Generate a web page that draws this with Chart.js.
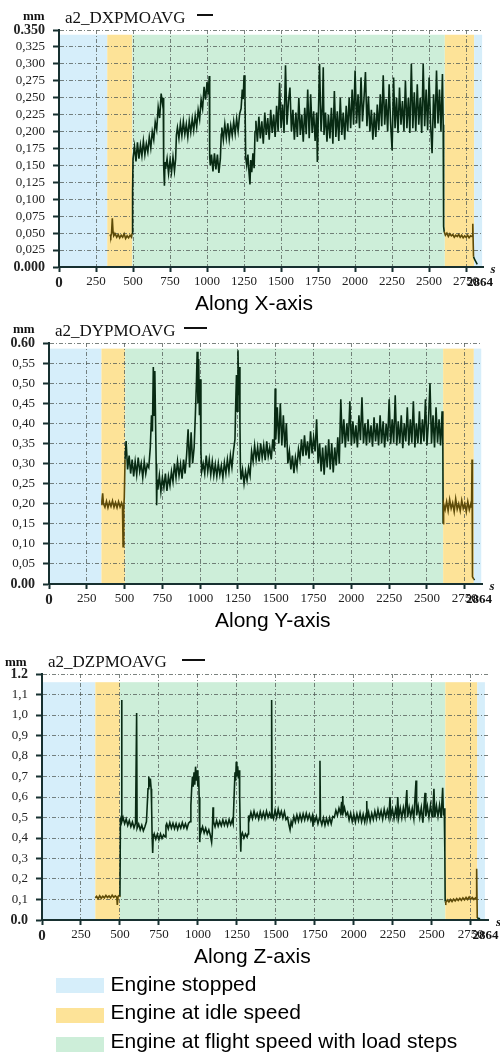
<!DOCTYPE html>
<html>
<head>
<meta charset="utf-8">
<script src="https://cdn.jsdelivr.net/npm/chart.js@4.4.1/dist/chart.umd.min.js"></script>
<style>
  body { margin: 0; width: 500px; height: 1053px; position: relative; background: #fff; overflow: hidden; }
  canvas { position: absolute; left: 0; }
  .t { position: absolute; white-space: nowrap; line-height: 1; }
  .serif { font-family: 'Liberation Serif', serif; color: #111; }
  .sans { font-family: 'Liberation Sans', Arial, sans-serif; font-size: 21px; color: #000; }
  .raya { position: absolute; height: 0; border-top: 2px solid #111; }
  .caja { position: absolute; left: 56px; width: 48px; height: 15px; }
</style>
</head>
<body>
<canvas id="gX" width="500" height="292" style="top:0px"></canvas>
<canvas id="gY" width="500" height="300" style="top:310px"></canvas>
<canvas id="gZ" width="500" height="306" style="top:640px"></canvas>

<div class="t serif" style="left:23px;top:9px;font-size:13px;font-weight:bold">mm</div>
<div class="t serif" style="left:65px;top:8.5px;font-size:17px">a2_DXPMOAVG</div>
<div class="raya" style="left:197px;top:14px;width:16px"></div>
<div class="t sans" style="left:195px;top:292px">Along X-axis</div>

<div class="t serif" style="left:13px;top:322px;font-size:13px;font-weight:bold">mm</div>
<div class="t serif" style="left:55px;top:321.8px;font-size:17px">a2_DYPMOAVG</div>
<div class="raya" style="left:184px;top:327px;width:23px"></div>
<div class="t sans" style="left:215px;top:609px">Along Y-axis</div>

<div class="t serif" style="left:5px;top:655px;font-size:13px;font-weight:bold">mm</div>
<div class="t serif" style="left:48px;top:652.8px;font-size:17px">a2_DZPMOAVG</div>
<div class="raya" style="left:182px;top:659px;width:23px"></div>
<div class="t sans" style="left:194px;top:945px">Along Z-axis</div>

<div id="leyenda"></div>

<script>
// fases del ensayo y sus colores
const fases = ['Engine stopped', 'Engine at idle speed', 'Engine at flight speed with load steps'];
const coloresFase = ['#d6eefa', '#fde398', '#cdeed9'];

// tramos [desde s, hasta s, fase] de cada grafico
const tramosX = [[0, 326, 0], [326, 495, 1], [495, 2606, 2], [2606, 2804, 1], [2804, 2858, 0]];
const tramosY = [[0, 347, 0], [347, 504, 1], [504, 2607, 2], [2607, 2810, 1], [2810, 2859, 0]];
const tramosZ = [[0, 342, 0], [342, 500, 1], [500, 2587, 2], [2587, 2792, 1], [2792, 2841, 0]];
const techoX = 0.343, techoY = 0.586, techoZ = 1.16;

const tiempoFin = 2864;
const tiempoTicks = [0, 250, 500, 750, 1000, 1250, 1500, 1750, 2000, 2250, 2500, 2750];
const etiquetasX = ['0.000', '0,025', '0,050', '0,075', '0,100', '0,125', '0,150', '0,175', '0,200', '0,225', '0,250', '0,275', '0,300', '0,325', '0.350'];
const etiquetasY = ['0.00', '0,05', '0,10', '0,15', '0,20', '0,25', '0,30', '0,35', '0,40', '0,45', '0,50', '0,55', '0.60'];
const etiquetasZ = ['0.0', '0,1', '0,2', '0,3', '0,4', '0,5', '0,6', '0,7', '0,8', '0,9', '1,0', '1,1', '1.2'];

// [tiempo s, mm]
const dxpmoavg = [
  [345,.048],[350,.045],[355,.050],[360,.072],[365,.052],[370,.046],[380,.049],[390,.044],[400,.048],[410,.043],[420,.047],[430,.044],[440,.049],[450,.042],[460,.046],[470,.043],[480,.047],[490,.044],[494,.050],[497,.110],
  [500,.160],[510,.178],[520,.156],[530,.184],[540,.160],[550,.180],[560,.164],[570,.186],[580,.166],[590,.182],[600,.170],[610,.192],[620,.176],[630,.200],[640,.188],[650,.214],[660,.203],[670,.236],[680,.220],[690,.256],[700,.240],[704,.250],[707,.150],[712,.120],[716,.155],[720,.145],[730,.160],[740,.138],[750,.158],[760,.140],[770,.162],[780,.142],[788,.160],[793,.195],
  [800,.206],[810,.190],[820,.212],[830,.194],[840,.215],[850,.196],[860,.211],[870,.192],[880,.216],[890,.199],[900,.219],[910,.202],[920,.223],[930,.207],[940,.232],[950,.218],[960,.247],[970,.234],[980,.266],[990,.247],[1000,.273],[1008,.255],[1015,.282],[1018,.162],[1022,.150],[1030,.166],[1040,.141],[1050,.168],[1060,.144],[1070,.166],[1080,.139],[1090,.160],[1096,.196],
  [1100,.206],[1110,.188],[1120,.211],[1130,.191],[1140,.212],[1150,.189],[1160,.209],[1170,.194],[1180,.215],[1190,.197],[1200,.219],[1210,.201],[1220,.226],[1230,.234],[1238,.262],[1244,.248],[1250,.283],[1256,.254],[1261,.162],[1268,.150],[1276,.166],[1284,.138],[1290,.122],[1295,.158],[1302,.140],[1310,.168],[1318,.146],[1324,.200],[1330,.216],
  [1340,.185],[1350,.222],[1360,.190],[1370,.215],[1380,.182],[1390,.228],[1400,.195],[1410,.220],[1420,.188],[1430,.232],[1440,.198],[1450,.225],[1460,.192],[1470,.238],[1480,.200],[1490,.272],[1500,.205],[1510,.240],[1520,.198],[1530,.298],[1540,.210],[1550,.245],[1560,.265],[1570,.200],[1580,.232],
  [1590,.188],[1600,.228],[1610,.192],[1620,.250],[1630,.195],[1640,.225],[1650,.185],[1660,.235],[1670,.196],[1680,.262],[1690,.190],[1700,.255],[1710,.198],[1720,.230],[1730,.186],[1740,.228],[1745,.155],[1750,.205],[1760,.300],[1770,.200],[1780,.240],[1785,.295],[1790,.195],
  [1800,.228],[1810,.185],[1820,.225],[1830,.190],[1840,.235],[1850,.182],[1860,.260],[1870,.192],[1880,.230],[1890,.186],[1900,.250],[1910,.195],[1920,.228],[1930,.188],[1940,.238],[1950,.200],
  [1960,.250],[1970,.205],[1980,.262],[1990,.210],[2000,.290],[2010,.212],[2020,.255],[2030,.205],[2040,.280],[2050,.215],[2060,.248],[2070,.288],[2080,.208],[2090,.252],[2100,.200],[2110,.232],[2120,.188],[2130,.228],[2140,.192],[2150,.240],
  [2160,.202],[2170,.255],[2180,.208],[2190,.283],[2200,.210],[2210,.248],[2220,.200],[2230,.270],[2240,.212],[2250,.172],[2260,.280],[2270,.205],[2280,.250],[2290,.198],[2300,.265],[2310,.210],[2320,.245],[2330,.200],[2340,.275],[2350,.205],[2360,.250],[2370,.198],
  [2380,.300],[2390,.205],[2400,.258],[2410,.200],[2420,.270],[2430,.210],[2440,.250],[2450,.198],[2460,.300],[2470,.208],[2480,.262],[2490,.202],[2500,.280],[2510,.210],[2520,.168],[2530,.255],[2540,.205],[2550,.290],[2560,.212],[2570,.262],[2580,.200],[2590,.285],[2595,.210],
  [2598,.060],[2602,.052],[2610,.047],[2620,.050],[2630,.045],[2640,.049],[2650,.046],[2660,.048],[2670,.044],[2680,.047],[2690,.045],[2700,.048],[2710,.044],[2720,.047],[2730,.043],[2740,.046],[2750,.044],[2760,.047],[2770,.043],[2780,.046],[2790,.045],[2795,.064],[2800,.015],[2810,.010],[2820,.006],[2825,.004]
];

const dypmoavg = [
  [345,.198],[350,.206],[355,.226],[360,.200],[370,.191],[380,.206],[390,.190],[400,.204],[410,.193],[420,.207],[430,.191],[440,.203],[450,.190],[460,.205],[470,.192],[480,.202],[486,.194],[490,.093],[494,.190],[498,.215],[503,.310],
  [510,.356],[520,.285],[530,.320],[540,.275],[550,.310],[560,.268],[570,.305],[580,.272],[590,.315],[600,.280],[610,.300],[620,.265],[630,.305],[640,.275],[650,.298],[660,.290],[670,.340],[678,.420],[684,.380],[690,.540],[695,.420],[700,.530],[705,.400],[709,.300],[712,.196],[715,.260],
  [720,.235],[730,.270],[740,.230],[750,.265],[760,.240],[770,.275],[780,.232],[790,.268],[800,.245],[810,.280],[820,.255],[830,.300],[840,.265],[850,.305],[860,.270],[870,.298],[880,.262],[890,.310],[900,.275],[910,.320],[920,.385],[930,.290],[940,.378],[950,.300],[960,.340],[968,.420],[975,.500],[980,.578],[985,.450],[990,.560],[995,.420],[1000,.510],[1005,.330],[1010,.280],
  [1020,.300],[1030,.275],[1040,.320],[1050,.280],[1060,.310],[1070,.272],[1080,.305],[1090,.270],[1100,.298],[1110,.268],[1120,.300],[1130,.272],[1140,.295],[1150,.265],[1160,.302],[1170,.275],[1180,.310],[1190,.280],[1200,.320],[1210,.290],[1220,.330],[1230,.360],[1235,.450],[1240,.520],[1245,.430],[1250,.582],[1255,.470],[1260,.540],[1263,.400],[1266,.290],
  [1270,.260],[1280,.285],[1290,.250],[1300,.280],[1310,.258],[1320,.290],[1330,.270],[1340,.330],[1350,.305],[1360,.345],[1370,.310],[1380,.340],[1390,.305],[1400,.350],[1410,.315],[1420,.345],[1430,.308],[1440,.355],[1450,.318],[1460,.340],[1470,.310],[1480,.360],[1490,.330],[1496,.487],[1500,.360],
  [1510,.440],[1520,.350],[1530,.450],[1540,.345],[1550,.420],[1560,.340],[1570,.400],[1580,.300],[1590,.330],[1600,.285],[1610,.320],[1620,.276],[1630,.315],[1640,.290],[1650,.335],[1660,.310],[1670,.360],[1680,.318],[1690,.370],[1700,.320],[1710,.355],[1720,.312],[1730,.380],[1740,.325],[1750,.365],[1760,.330],[1770,.410],
  [1780,.300],[1790,.350],[1800,.280],[1810,.340],[1820,.272],[1830,.345],[1840,.290],[1850,.360],[1860,.285],[1870,.350],[1880,.278],[1890,.340],[1900,.295],[1910,.365],[1920,.300],
  [1930,.460],[1940,.350],[1950,.410],[1960,.340],[1970,.400],[1980,.355],[1990,.455],[2000,.345],[2010,.405],[2020,.350],[2030,.395],[2040,.340],[2050,.420],[2060,.358],[2070,.465],[2080,.350],[2090,.400],[2100,.345],[2110,.410],[2120,.352],[2130,.395],[2140,.342],[2150,.415],[2160,.355],[2170,.400],[2180,.345],[2190,.420],[2200,.350],
  [2210,.405],[2220,.340],[2230,.398],[2240,.355],[2250,.460],[2260,.348],[2270,.410],[2280,.352],[2290,.470],[2300,.345],[2310,.405],[2320,.350],[2330,.420],[2340,.338],[2350,.400],[2360,.355],[2370,.440],[2380,.345],[2390,.410],[2400,.352],[2410,.455],[2420,.340],[2430,.400],[2440,.350],[2450,.430],[2460,.348],[2470,.410],[2480,.355],[2490,.460],[2500,.345],
  [2510,.405],[2520,.500],[2530,.350],[2540,.420],[2550,.340],[2560,.440],[2570,.352],[2580,.410],[2590,.345],[2600,.430],[2605,.350],[2607,.150],[2610,.200],
  [2620,.185],[2630,.205],[2640,.182],[2650,.210],[2660,.188],[2670,.202],[2680,.180],[2690,.212],[2700,.186],[2710,.200],[2720,.182],[2730,.208],[2740,.188],[2750,.200],[2760,.180],[2770,.205],[2780,.185],[2790,.200],[2795,.190],[2798,.310],[2801,.018],[2810,.012],[2815,.010]
];

const dzpmoavg = [
  [342,.108],[350,.115],[360,.104],[370,.118],[380,.106],[390,.116],[400,.108],[410,.120],[420,.110],[430,.117],[440,.108],[450,.121],[460,.111],[470,.118],[480,.110],[483,.073],[488,.115],[495,.120],[500,.118],[503,.490],[507,.500],[511,1.073],[513,.480],
  [520,.500],[530,.470],[540,.492],[550,.462],[560,.485],[570,.455],[580,.478],[590,.450],[600,.472],[607,1.010],[610,.448],[620,.468],[630,.440],[640,.462],[650,.435],[660,.455],[670,.480],[675,.560],[680,.640],[685,.700],[690,.650],[695,.690],[700,.640],[703,.560],[706,.420],[710,.327],[713,.400],
  [720,.420],[730,.395],[740,.418],[750,.392],[760,.420],[770,.398],[780,.415],[790,.405],[795,.460],[800,.470],[810,.445],[820,.475],[830,.448],[840,.472],[850,.445],[860,.470],[870,.442],[880,.468],[890,.448],[900,.475],[910,.450],[920,.470],[930,.445],[940,.472],[950,.480],[955,.560],[960,.640],[965,.700],[970,.650],[975,.720],[980,.660],[985,.748],[990,.680],[995,.730],[1000,.650],[1005,.700],[1008,.600],[1011,.440],[1013,.380],[1016,.450],
  [1020,.430],[1030,.455],[1040,.425],[1050,.448],[1060,.420],[1070,.440],[1080,.412],[1088,.380],[1092,.420],[1097,.550],[1100,.480],[1110,.455],[1120,.485],[1130,.458],[1140,.482],[1150,.460],[1160,.488],[1170,.462],[1180,.485],[1190,.460],[1200,.490],[1210,.465],[1220,.488],[1226,.470],[1232,.600],[1238,.720],[1242,.680],[1246,.772],[1250,.700],[1255,.750],[1260,.690],[1265,.730],[1268,.600],[1272,.420],[1275,.333],[1278,.410],
  [1285,.425],[1295,.400],[1305,.420],[1315,.405],[1322,.420],[1325,.510],[1330,.490],[1340,.525],[1350,.495],[1360,.530],[1370,.500],[1380,.520],[1390,.492],[1400,.528],[1410,.498],[1420,.525],[1430,.495],[1440,.530],[1450,.500],[1460,.522],[1470,.498],[1473,1.073],[1476,.520],[1485,.495],[1495,.535],[1505,.500],[1515,.540],[1525,.505],[1535,.530],[1545,.498],[1555,.528],[1565,.490],
  [1575,.500],[1585,.460],[1591,.440],[1598,.480],[1605,.462],[1615,.505],[1625,.478],[1635,.512],[1645,.482],[1655,.515],[1665,.485],[1675,.518],[1685,.488],[1695,.520],[1705,.490],[1715,.515],[1725,.485],[1735,.510],[1738,.455],[1742,.500],
  [1750,.480],[1760,.505],[1770,.470],[1780,.500],[1783,.777],[1786,.490],[1795,.465],[1805,.498],[1815,.462],[1825,.495],[1835,.468],[1845,.500],[1855,.470],[1865,.505],[1875,.500],[1885,.535],[1895,.510],[1905,.545],[1915,.520],[1922,.577],[1926,.515],[1929,.605],[1932,.525],[1940,.548],[1950,.510],
  [1960,.525],[1970,.488],[1980,.520],[1990,.480],[2000,.515],[2010,.478],[2020,.518],[2030,.485],[2040,.522],[2050,.480],[2060,.515],[2070,.478],[2080,.520],[2083,.580],[2086,.490],[2095,.525],[2105,.482],[2115,.520],[2125,.490],
  [2135,.530],[2145,.495],[2155,.538],[2165,.500],[2175,.532],[2185,.492],[2195,.540],[2205,.502],[2215,.535],[2225,.498],[2232,.600],[2238,.505],[2248,.540],[2258,.495],[2268,.542],[2276,.505],[2282,.600],[2288,.500],[2298,.545],[2308,.498],[2318,.548],[2328,.505],[2340,.634],[2345,.500],[2355,.550],[2365,.505],[2375,.545],[2385,.495],[2399,.680],[2403,.510],
  [2413,.555],[2423,.500],[2433,.548],[2443,.475],[2450,.552],[2457,.620],[2462,.505],[2472,.555],[2482,.500],[2492,.560],[2502,.505],[2508,.550],[2514,.640],[2520,.500],[2530,.558],[2540,.505],[2550,.560],[2560,.498],[2570,.645],[2575,.510],[2580,.545],[2584,.330],[2586,.090],
  [2590,.085],[2600,.098],[2610,.088],[2620,.100],[2630,.090],[2640,.102],[2650,.093],[2660,.104],[2670,.095],[2680,.106],[2690,.096],[2700,.108],[2710,.098],[2720,.110],[2730,.100],[2740,.112],[2750,.101],[2760,.110],[2770,.100],[2780,.108],[2786,.102],[2788,.250],[2792,.010],[2800,.008],[2810,.006]
];

const serif = 'Liberation Serif';
const oscuro = '#082a13';
const marron = '#5e4b08';
const eje = '#173030';
const rejilla = 'rgba(80, 90, 85, 0.75)';

// bandas de fase debajo de la rejilla, y textos del final del eje
const pluginFases = {
  id: 'fases',
  beforeDraw(chart, args, opts) {
    const { ctx, chartArea, scales: { x, y } } = chart;
    const yt = y.getPixelForValue(opts.techo);
    ctx.save();
    opts.tramos.forEach(([a, b, f]) => {
      const x0 = x.getPixelForValue(a);
      const x1 = x.getPixelForValue(b);
      ctx.fillStyle = coloresFase[f];
      ctx.fillRect(x0, yt, x1 - x0, chartArea.bottom - yt);
    });
    ctx.restore();
  },
  afterDraw(chart) {
    const { ctx, chartArea, scales: { x } } = chart;
    ctx.save();
    ctx.fillStyle = '#111';
    ctx.font = 'bold 13px "Liberation Serif"';
    ctx.textAlign = 'center';
    ctx.textBaseline = 'top';
    ctx.fillText(String(tiempoFin), x.getPixelForValue(tiempoFin) - 3, chartArea.bottom + 9);
    ctx.font = 'italic bold 13px "Liberation Serif"';
    ctx.textBaseline = 'middle';
    ctx.fillText('s', chartArea.right + 10, chartArea.bottom + 3);
    ctx.restore();
  }
};

function grafico(id, serie, tramos, techo, etiquetas, marco) {
  const valores = etiquetas.map(e => parseFloat(e.replace(',', '.')));
  const ultimo = valores.length - 1;
  const idle = tramos.filter(t => t[2] === 1);
  const enIdle = v => idle.some(t => v >= t[0] && v <= t[1]);

  new Chart(document.getElementById(id), {
    type: 'line',
    data: {
      datasets: [{
        data: serie,
        borderColor: oscuro,
        borderWidth: 1.6,
        pointRadius: 0,
        tension: 0,
        segment: {
          borderColor: c => enIdle((c.p0.parsed.x + c.p1.parsed.x) / 2) ? marron : oscuro
        }
      }]
    },
    options: {
      responsive: false,
      animation: false,
      events: [],
      layout: { padding: { left: 0, right: marco.derecha, top: marco.arriba, bottom: marco.abajo } },
      plugins: {
        legend: { display: false },
        tooltip: { enabled: false },
        fases: { tramos: tramos, techo: techo }
      },
      scales: {
        x: {
          type: 'linear',
          min: 0,
          max: tiempoFin,
          afterBuildTicks: s => { s.ticks = tiempoTicks.map(v => ({ value: v })); },
          afterFit: s => { s.height = 24; },
          ticks: {
            autoSkip: false,
            maxRotation: 0,
            padding: 2,
            color: '#222',
            font: c => c.index === 0 ? { family: serif, size: 15, weight: 'bold' } : { family: serif, size: 13 },
            callback: v => String(v)
          },
          grid: { color: rejilla, tickColor: eje, tickLength: 5, tickWidth: 2 },
          border: { color: eje, width: 2, dash: [4, 2, 1, 2] }
        },
        y: {
          type: 'linear',
          min: 0,
          max: valores[ultimo],
          afterBuildTicks: s => { s.ticks = valores.map(v => ({ value: v })); },
          afterFit: s => { s.width = marco.izquierda; },
          ticks: {
            autoSkip: false,
            padding: 8,
            color: '#222',
            font: c => (c.index === 0 || c.index === ultimo) ? { family: serif, size: 14, weight: 'bold' } : { family: serif, size: 13 },
            callback: (v, i) => etiquetas[i]
          },
          grid: { color: rejilla, tickColor: eje, tickLength: 6, tickWidth: 2 },
          border: { color: eje, width: 2, dash: [4, 2, 1, 2] }
        }
      }
    },
    plugins: [pluginFases]
  });
}

grafico('gX', dxpmoavg, tramosX, techoX, etiquetasX, { izquierda: 59, derecha: 17, arriba: 30, abajo: 1 });
grafico('gY', dypmoavg, tramosY, techoY, etiquetasY, { izquierda: 49, derecha: 18, arriba: 33, abajo: 2 });
grafico('gZ', dzpmoavg, tramosZ, techoZ, etiquetasZ, { izquierda: 42, derecha: 11.5, arriba: 34, abajo: 2 });

// leyenda de fases
const leyenda = document.getElementById('leyenda');
const arribaCaja = [978, 1007.5, 1037];
const arribaTexto = [973, 1000.5, 1029.5];
fases.forEach((f, i) => {
  const caja = document.createElement('div');
  caja.className = 'caja';
  caja.style.top = arribaCaja[i] + 'px';
  caja.style.background = coloresFase[i];
  leyenda.appendChild(caja);
  const txt = document.createElement('div');
  txt.className = 't sans';
  txt.style.left = '110.5px';
  txt.style.top = arribaTexto[i] + 'px';
  txt.textContent = f;
  leyenda.appendChild(txt);
});
</script>
</body>
</html>
